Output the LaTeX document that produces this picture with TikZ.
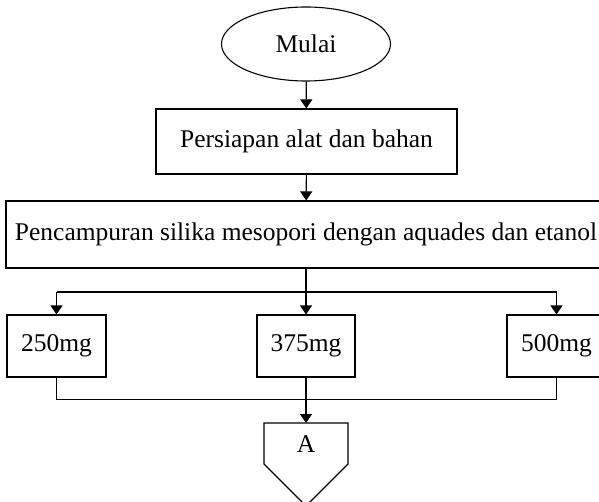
\documentclass[tikz,border=0pt]{standalone}
\usepackage{fontspec}
\setmainfont{Liberation Serif}
\usetikzlibrary{shapes.geometric,arrows.meta}
\begin{document}
\begin{tikzpicture}[x=1pt,y=1pt,
  font=\fontsize{25.5}{29}\selectfont,
  line width=1.1pt,
  box/.style={draw,rectangle,inner sep=0pt,align=center},
  flow/.style={-{Triangle[length=9pt,width=12pt]}},
  plain/.style={-}]
\useasboundingbox (0,0) rectangle (599,501);

% start terminal
\node[draw,ellipse,inner sep=0pt,minimum width=169,minimum height=74] (mulai) at (306,457) {Mulai};

% process steps
\node[box,minimum width=301,minimum height=65] (prep) at (306.5,359.5) {Persiapan alat dan bahan};
\node[box,minimum width=600,minimum height=67] (mix) at (306,266.5) {Pencampuran silika mesopori dengan aquades dan etanol};

% the three doses
\node[box,minimum width=99,minimum height=62] (d250) at (56.5,155) {250mg};
\node[box,minimum width=98,minimum height=62] (d375) at (306,155) {375mg};
\node[box,minimum width=99,minimum height=62] (d500) at (556.5,155) {500mg};

% off-page connector A
\coordinate (atop) at (306,78);
\draw (264,78) -- (348,78) -- (348,37) -- (306,-5) -- (264,37) -- cycle;
\node (A) at (306,57) {A};

% branching and merging points
\coordinate (split) at (306,209);
\coordinate (merge) at (306,101.5);

\draw[flow] (mulai) -- (prep);
\draw[flow] (prep) -- (mix);
\draw[plain] (mix.south -| split) -- (split);
\draw[plain] (split -| d250) -- (split -| d500);
\draw[flow] (split -| d250) -- (d250);
\draw[flow] (split) -- (d375);
\draw[flow] (split -| d500) -- (d500);
\draw[plain] (d250) |- (merge);
\draw[plain] (d500) |- (merge);
\draw[plain] (d375) -- (merge);
\draw[flow] (merge) -- (atop);
\end{tikzpicture}
\end{document}
